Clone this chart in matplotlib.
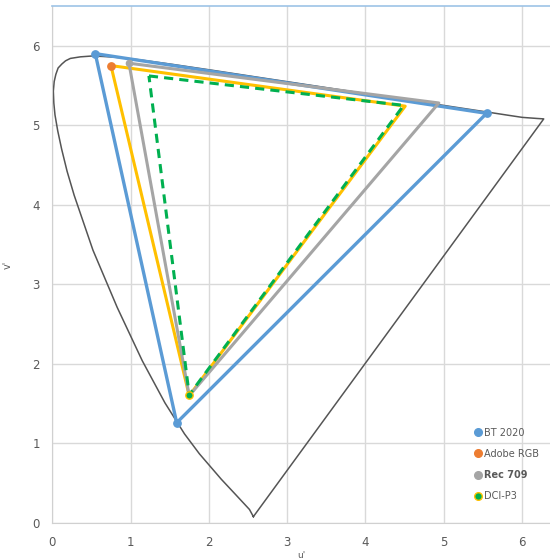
import matplotlib.pyplot as plt
from matplotlib.lines import Line2D

# spectral locus (u', v' scaled x10), 380 nm -> 700 nm, closed by the purple line
locus_u = [2.57, 2.52, 2.35, 2.16, 1.88, 1.69, 1.44, 1.15, 0.83, 0.52, 0.28, 0.19,
           0.12, 0.07, 0.035, 0.02, 0.014, 0.025, 0.046, 0.075, 0.123, 0.17, 0.231,
           0.36, 0.501, 0.643, 0.792, 0.953, 1.127, 1.531, 2.026, 2.623, 3.315,
           4.035, 4.692, 5.203, 5.565, 5.83, 6.005, 6.2, 6.28]
locus_v = [0.08, 0.17, 0.35, 0.55, 0.87, 1.12, 1.51, 2.04, 2.71, 3.43, 4.12, 4.42,
           4.70, 4.93, 5.13, 5.28, 5.43, 5.55, 5.64, 5.72, 5.77, 5.81, 5.84,
           5.86, 5.87, 5.865, 5.856, 5.841, 5.821, 5.766, 5.694, 5.604, 5.501,
           5.393, 5.296, 5.219, 5.165, 5.125, 5.099, 5.085, 5.08]

# gamut triangles (top-left, right, bottom)
bt2020_u = [0.55, 5.55, 1.59]
bt2020_v = [5.90, 5.15, 1.26]
adobe_u = [0.75, 4.51, 1.75]
adobe_v = [5.75, 5.24, 1.60]
rec709_u = [0.98, 4.94, 1.75]
rec709_v = [5.78, 5.28, 1.60]
p3_u = [1.235, 4.49, 1.75]
p3_v = [5.62, 5.25, 1.61]

labels = ["BT 2020", "Adobe RGB", "Rec 709", "DCI-P3"]

fig = plt.figure(figsize=(5.5, 5.59), dpi=100)
ax = fig.add_axes([0.095, 0.0644, 0.905, 0.925])

ax.plot(locus_u + [locus_u[0]], locus_v + [locus_v[0]], color="#555555", lw=1.1, zorder=2)

def tri(u, v):
    return u + [u[0]], v + [v[0]]

u, v = tri(bt2020_u, bt2020_v)
ax.plot(u, v, color="#5B9BD5", lw=2.4, zorder=3)
ax.scatter(bt2020_u, bt2020_v, s=28, color="#5B9BD5", zorder=7)

u, v = tri(adobe_u, adobe_v)
ax.plot(u, v, color="#FFC000", lw=2.2, zorder=4)
ax.scatter(adobe_u[:1], adobe_v[:1], s=28, color="#ED7D31", zorder=7)

u, v = tri(rec709_u, rec709_v)
ax.plot(u, v, color="#A5A5A5", lw=2.2, zorder=5)
ax.scatter(rec709_u[:1], rec709_v[:1], s=20, color="#A5A5A5", zorder=7)

u, v = tri(p3_u, p3_v)
ax.plot(u, v, color="#00B050", lw=2.2, ls=(0, (3, 2)), zorder=6)
ax.scatter(p3_u[2:], p3_v[2:], s=28, color="#00B050", edgecolors="#FFC000", linewidths=1, zorder=7)

ax.set_xlim(0, 6.36)
ax.set_ylim(0, 6.5)
ax.set_xticks(range(7))
ax.set_yticks(range(7))
ax.grid(True, color="#D9D9D9", lw=1)
ax.set_axisbelow(True)
ax.tick_params(length=0, labelsize=8.5, labelcolor="#595959", pad=9)
for s in ["left", "bottom"]:
    ax.spines[s].set_color("#D0D0D0")
ax.spines["right"].set_visible(False)
ax.spines["top"].set_color("#9DC3E6")
ax.spines["top"].set_linewidth(1.2)

ax.set_xlabel("u'", fontsize=6.5, color="#595959", labelpad=2)
ax.set_ylabel("v'", fontsize=7, color="#595959", labelpad=14)

colors = ["#5B9BD5", "#ED7D31", "#A5A5A5", "#00B050"]
edges = ["#5B9BD5", "#ED7D31", "#A5A5A5", "#FFC000"]
handles = [Line2D([], [], ls="", marker="o", ms=5.5, color=c, markeredgecolor=e)
           for c, e in zip(colors, edges)]
leg = ax.legend(handles, labels, loc="upper left", bbox_to_anchor=(0.836, 0.192),
                frameon=False, fontsize=7, handletextpad=0.0, labelspacing=1.15,
                handlelength=1.2, borderaxespad=0)
for t in leg.get_texts():
    t.set_color("#595959")
leg.get_texts()[2].set_fontweight("bold")

fig.savefig("out.png", dpi=100)
